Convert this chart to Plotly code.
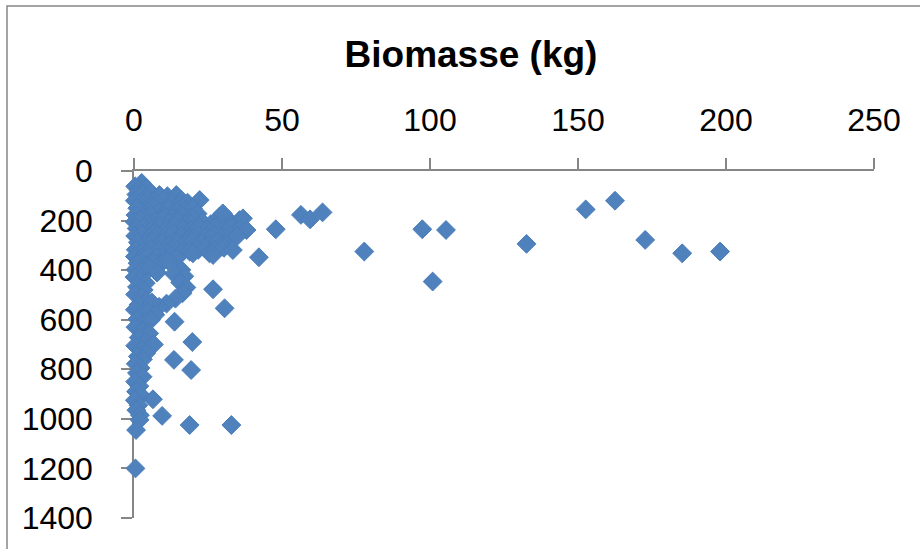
import plotly.graph_objects as go

# Biomasse (kg) vs profondeur
biomasse_kg = [
    # dense cluster, top
    2.6, 0.4, 1.5, 4.1, 0.8, 3.2, 5.8, 8.6, 11.3, 14.3, 16.0,
    0.3, 2.2, 4.8, 7.1, 9.9, 12.6, 15.2, 18.1, 22.2,
    1.1, 3.9, 6.5, 8.8, 11.7, 14.4, 17.3, 19.9,
    0.5, 2.9, 5.6, 10.2, 13.1, 16.4, 19.2, 21.5,
    0.2, 2.4, 4.6, 7.3, 9.7, 12.2, 15.0, 17.8, 20.6, 23.1, 25.9, 28.9, 30.0, 33.0, 35.7, 36.8,
    0.9, 3.3, 5.9, 8.4, 11.0, 13.8, 16.5, 19.3, 22.0, 24.7, 27.4, 30.2, 32.8, 35.5, 38.0,
    0.4, 2.7, 5.2, 7.9, 10.6, 13.3, 16.1, 18.7, 21.4, 24.2, 26.9, 29.6, 32.3, 34.9,
    1.3, 3.8, 6.4, 9.1, 11.8, 14.5, 17.2, 20.0, 22.6, 25.3, 28.1, 30.7,
    0.6, 3.1, 5.7, 8.3, 10.9, 13.6, 16.2, 18.8, 21.7, 24.0, 25.5, 27.3, 30.4, 33.4,
    26.7, 19.9,
    # middle column
    0.3, 2.5, 5.0, 7.6, 10.1, 12.4, 14.4, 1.2, 3.8, 6.3, 8.9, 11.5,
    0.5, 2.9, 5.4, 7.8, 16.0, 13.5,
    0.2, 2.1, 4.0, 1.0, 3.3, 0.4, 2.6, 4.2, 1.5,
    17.0, 15.6, 17.7, 16.4, 14.0, 11.0, 8.5, 6.0,
    0.3, 2.4, 4.6, 7.2, 1.1, 3.5, 5.8, 0.5, 2.8, 5.1, 1.6, 4.0, 6.7,
    0.4, 2.5, 4.1, 1.3, 3.0, 0.6, 2.2, 1.0, 2.9, 0.4, 1.8, 0.7, 2.4, 0.3, 1.5, 0.8, 2.0, 1.9, 0.7,
    # isolated points
    30.0, 47.9, 42.2, 56.4, 59.5, 63.7, 77.8, 97.4, 105.4, 100.9, 132.6,
    152.6, 162.5, 172.7, 185.2, 198.0,
    26.7, 30.6, 13.7, 19.7, 13.5, 19.3, 6.4, 9.5, 18.8, 32.9, 0.5,
]

profondeur = [
    48, 62, 75, 70, 95, 92, 88, 97, 102, 97, 118,
    120, 128, 115, 122, 118, 130, 138, 128, 117,
    150, 158, 146, 160, 152, 165, 158, 150,
    178, 185, 176, 182, 190, 178, 188, 172,
    205, 198, 210, 203, 196, 208, 201, 212, 198, 206, 215, 184, 200, 210, 198, 191,
    232, 226, 238, 229, 236, 224, 233, 240, 228, 236, 230, 241, 228, 236, 238,
    262, 255, 268, 258, 264, 252, 261, 270, 256, 265, 258, 268, 257, 262,
    288, 296, 284, 292, 299, 287, 295, 283, 291, 298, 285, 294,
    318, 325, 315, 322, 330, 312, 326, 325, 318, 312, 332, 320, 310, 319,
    339, 332,
    345, 352, 340, 348, 355, 344, 352, 372, 380, 368, 376, 362,
    398, 405, 392, 410, 399, 415,
    428, 440, 452, 468, 480, 498, 510, 525, 540,
    425, 450, 470, 493, 515, 535, 548, 530,
    560, 575, 565, 580, 598, 612, 600, 630, 645, 655, 672, 688, 700,
    705, 720, 735, 748, 760, 778, 795, 815, 830, 850, 868, 890, 905, 925, 945, 965, 985, 1004, 1045,
    171, 235, 348, 177, 195, 167, 325, 235, 238, 446, 294,
    155, 120, 278, 332, 325,
    477, 554, 608, 690, 762, 803, 921, 988, 1025, 1025, 1200,
]

x_ticks = [0, 50, 100, 150, 200, 250]
y_ticks = [0, 200, 400, 600, 800, 1000, 1200, 1400]
title_text = "Biomasse (kg)"

AX = "#868686"
FONT = "Liberation Sans"

fig = go.Figure(
    go.Scatter(
        x=biomasse_kg,
        y=profondeur,
        mode="markers",
        cliponaxis=False,
        marker=dict(symbol="diamond", size=14.5, color="#4F81BD",
                    line=dict(color="#4A7EBB", width=1)),
        hoverinfo="x+y",
    )
)

fig.update_layout(
    width=920,
    height=549,
    paper_bgcolor="white",
    plot_bgcolor="white",
    showlegend=False,
    margin=dict(l=134, r=46, t=171, b=31, pad=0, autoexpand=False),
    title=dict(
        text=title_text,
        font=dict(family=FONT, size=37, color="black", weight="bold"),
        x=471 / 920, xref="container", xanchor="center",
        y=1 - 54 / 549, yref="container", yanchor="middle",
        automargin=False,
    ),
    xaxis=dict(
        side="top",
        range=[0, 250],
        tickvals=x_ticks,
        ticktext=[str(v) for v in x_ticks],
        showgrid=False, zeroline=False,
        showline=True, linecolor=AX, linewidth=1.5,
        ticks="outside", ticklen=11, tickwidth=1.5, tickcolor=AX,
        tickfont=dict(family=FONT, size=32, color="black"),
        ticklabelstandoff=14,
        automargin=False,
        layer="below traces",
    ),
    yaxis=dict(
        range=[1400, 0],
        tickvals=y_ticks,
        ticktext=[str(v) for v in y_ticks],
        showgrid=False, zeroline=False,
        showline=True, linecolor=AX, linewidth=1.5,
        ticks="outside", ticklen=11, tickwidth=1.5, tickcolor=AX,
        tickfont=dict(family=FONT, size=32, color="black"),
        ticklabelstandoff=22,
        automargin=False,
        layer="below traces",
    ),
    shapes=[
        dict(type="rect", xref="paper", yref="paper",
             x0=(7 - 134) / 740, x1=(930 - 134) / 740,
             y0=(518 - 560) / 347, y1=(518 - 6) / 347,
             line=dict(color=AX, width=1.5), fillcolor="rgba(0,0,0,0)",
             layer="below"),
    ],
)

fig.write_html(
    "out.html",
    config={"displayModeBar": False},
    post_script="document.body.style.margin='0';document.body.style.overflow='hidden';",
)
